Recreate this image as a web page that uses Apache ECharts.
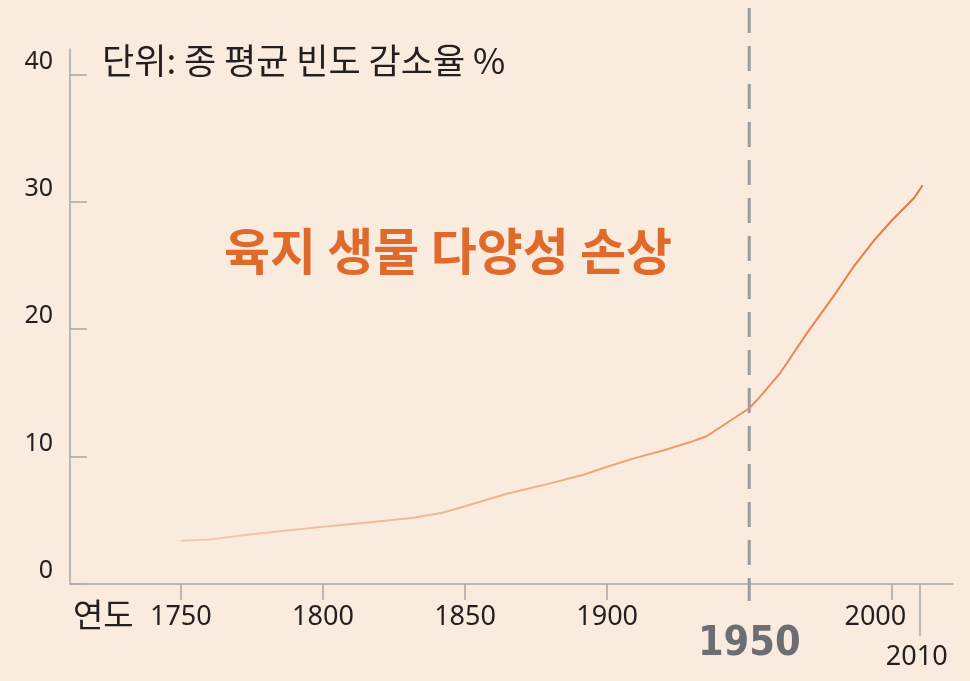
<!DOCTYPE html>
<html>
<head>
<meta charset="utf-8">
<script src="https://cdn.jsdelivr.net/npm/echarts@6/dist/echarts.min.js"></script>
<style>
html,body{margin:0;padding:0;background:#faebdf;}
#chart{width:970px;height:681px;}
</style>
</head>
<body>
<div id="chart"></div>
<script>
// Data
const years = [1750, 1760, 1775, 1800, 1815, 1832, 1842, 1850, 1865, 1880, 1892, 1900, 1910, 1920, 1930, 1935, 1950, 1953, 1961, 1970, 1980, 1987, 1994, 2000, 2008, 2011];
const lossPct = [3.4, 3.5, 3.9, 4.5, 4.8, 5.2, 5.6, 6.1, 7.1, 7.9, 8.6, 9.2, 9.9, 10.5, 11.2, 11.6, 13.8, 14.5, 16.6, 19.6, 22.7, 25.0, 27.0, 28.5, 30.3, 31.3];
const xTicks = [1750, 1800, 1850, 1900, 1950, 2000];
const xLabels = [1750, 1800, 1850, 1900, 2000];
const xTickExtra = [2010];
const yTicks = [0, 10, 20, 30, 40];
const markYear = 1950;
const unitText = '단위: 종 평균 빈도 감소율 %';
const headline = '육지 생물 다양성 손상';
const axisName = '연도';

const chart = echarts.init(document.getElementById('chart'), null, {renderer: 'canvas'});
const txt = '#231f20';
const axisGray = '#a7a9ac';
const numFont = "'Noto Sans', sans-serif";
const krFont = "'Noto Sans CJK KR', 'Noto Sans', sans-serif";
const X_MIN = 1711, X_MAX = 2021.7;

const option = {
  backgroundColor: '#faebdf',
  animation: false,
  title: [
    {text: unitText, left: 97, top: 38, textStyle: {fontFamily: krFont, fontSize: 35, fontWeight: 'normal', color: txt}},
    {text: headline, left: 219, top: 221, textStyle: {fontFamily: krFont, fontSize: 50, fontWeight: 'bold', color: '#e06a2b'}},
    {text: axisName, left: 68, top: 593, textStyle: {fontFamily: krFont, fontSize: 33, fontWeight: 'normal', color: txt}}
  ],
  grid: [
    {left: 70, right: 17, top: 49, bottom: 97, containLabel: false},
    {left: 70, right: 17, top: 8, bottom: 80, containLabel: false}
  ],
  xAxis: [
    {
      type: 'value', min: X_MIN, max: X_MAX, gridIndex: 0,
      splitLine: {show: false},
      axisLine: {show: true, lineStyle: {color: axisGray, width: 1.5}},
      axisTick: {show: true, customValues: xTicks, length: 16, lineStyle: {color: axisGray, width: 1.5}},
      axisLabel: {
        customValues: xLabels, margin: 19, color: txt, fontFamily: numFont, fontSize: 27, lineHeight: 29,
        formatter: function (v) {
          if (v === 2000) return '{shift|' + v + '}';
          return String(v);
        },
        rich: {
          shift: {fontFamily: numFont, fontSize: 27, color: txt, lineHeight: 29, padding: [0, 32, 0, 0]}
        }
      }
    },
    {
      type: 'value', min: X_MIN, max: X_MAX, gridIndex: 0, position: 'bottom',
      splitLine: {show: false},
      axisLine: {show: false},
      axisTick: {show: true, customValues: xTickExtra, length: 52, lineStyle: {color: axisGray, width: 1.5}},
      axisLabel: {customValues: xTickExtra, margin: 59, color: txt, fontFamily: numFont, fontSize: 27, lineHeight: 29, padding: [0, 6, 0, 0], formatter: function (v) { return String(v); }}
    },
    {
      type: 'value', min: X_MIN, max: X_MAX, gridIndex: 0, position: 'bottom',
      splitLine: {show: false},
      axisLine: {show: false},
      axisTick: {show: false},
      axisLabel: {customValues: [markYear], margin: 40, color: '#6d6e71', fontFamily: "'Liberation Sans Narrow', 'DejaVu Sans Condensed', 'Noto Sans', sans-serif", fontSize: 41, fontWeight: 'bold', lineHeight: 41, formatter: function (v) { return String(v); }}
    },
    {
      type: 'value', min: X_MIN, max: X_MAX, gridIndex: 1, show: false
    }
  ],
  yAxis: [
    {
      type: 'value', min: 0, max: 42, gridIndex: 0,
      splitLine: {show: false},
      axisLine: {show: true, lineStyle: {color: axisGray, width: 1.5}},
      axisTick: {show: true, inside: true, customValues: yTicks, length: 17, lineStyle: {color: axisGray, width: 1.5}},
      axisLabel: {customValues: yTicks, margin: 17, color: txt, fontFamily: numFont, fontSize: 25, verticalAlign: 'bottom', lineHeight: 26}
    },
    {
      type: 'value', min: 0, max: 1, gridIndex: 1, show: false
    }
  ],
  series: [
    {
      type: 'line',
      xAxisIndex: 3, yAxisIndex: 1,
      data: [[markYear, 1], [markYear, 0]],
      showSymbol: false,
      silent: true,
      z: 1,
      lineStyle: {color: '#9a9a9c', width: 3, type: [25, 13]}
    },
    {
      type: 'line',
      xAxisIndex: 0, yAxisIndex: 0,
      data: years.map((y, i) => [y, lossPct[i]]),
      showSymbol: false,
      smooth: false,
      z: 3,
      lineStyle: {
        width: 2,
        color: new echarts.graphic.LinearGradient(0, 0, 1, 0, [
          {offset: 0, color: '#f2cbb3'},
          {offset: 0.5, color: '#eeae88'},
          {offset: 1, color: '#e3733a'}
        ])
      }
    }
  ]
};
chart.setOption(option);
</script>
</body>
</html>
